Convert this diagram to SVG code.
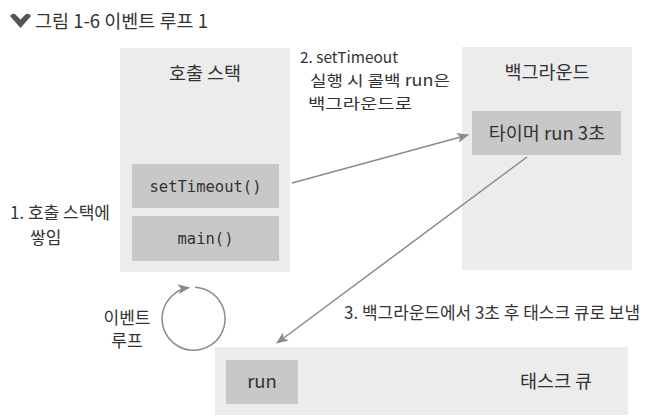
<svg xmlns="http://www.w3.org/2000/svg" width="658" height="419" viewBox="0 0 658 419">
<defs>
<style>
.panel{fill:#ececec}
.box{fill:#c8c8c8}
.t{font-family:"Noto Sans CJK KR","Noto Sans",sans-serif;fill:#333;font-size:17px}
.s{font-size:15px}
.h{font-size:18.5px}
.m{font-family:"DejaVu Sans Mono","Liberation Mono",monospace;fill:#333;font-size:15.5px}
.c{text-anchor:middle}
.conn{stroke:#8a8a8a;stroke-width:1.5;fill:none}
</style>
<marker id="ah" markerWidth="12" markerHeight="10" refX="11" refY="5" orient="auto" markerUnits="userSpaceOnUse">
<path d="M0,0 L12,5 L0,10 L3,5 Z" fill="#8a8a8a"/>
</marker>
</defs>
<rect width="658" height="419" fill="#fff"/>
<g id="title">
<path d="M10,16 Q13.5,11.5 17,16 L20.5,19.5 L24,16 Q27.5,11.5 31,16 L20.5,28 Z" fill="#555"/>
<text class="t h" x="35" y="28">그림 1-6 이벤트 루프 1</text>
</g>
<g id="callstack">
<rect class="panel" x="120" y="48" width="170" height="224"/>
<text class="t h c" x="205" y="80">호출 스택</text>
</g>
<g id="settimeout">
<rect class="box" x="132" y="164" width="147" height="44"/>
<text class="m c" x="205.5" y="192">setTimeout()</text>
</g>
<g id="main">
<rect class="box" x="132" y="216" width="147" height="45"/>
<text class="m c" x="205.5" y="244">main()</text>
</g>
<g id="background">
<rect class="panel" x="462" y="47" width="170" height="223"/>
<text class="t h c" x="547" y="79">백그라운드</text>
</g>
<g id="timer">
<rect class="box" x="472" y="111" width="149" height="44"/>
<text class="t h c" x="547" y="140">타이머 run 3초</text>
</g>
<g id="taskqueue">
<rect class="panel" x="215" y="347" width="413" height="68"/>
<text class="t h c" x="556" y="388" font-size="19">태스크 큐</text>
</g>
<g id="run">
<rect class="box" x="226" y="360" width="72" height="44"/>
<text class="t h c" x="262" y="388">run</text>
</g>
<g id="labels">
<text class="t" x="10" y="219" textLength="100" lengthAdjust="spacingAndGlyphs">1. 호출 스택에</text>
<text class="t" x="30" y="244">쌓임</text>
<text class="t s" x="300" y="63" textLength="98" lengthAdjust="spacingAndGlyphs">2. setTimeout</text>
<text class="t s" x="310" y="86" textLength="140" lengthAdjust="spacingAndGlyphs">실행 시 콜백 run은</text>
<text class="t s" x="308" y="109" textLength="104" lengthAdjust="spacingAndGlyphs">백그라운드로</text>
<text class="t" x="344" y="319" textLength="296" lengthAdjust="spacingAndGlyphs">3. 백그라운드에서 3초 후 태스크 큐로 보냄</text>
<text class="t c" x="127" y="324">이벤트</text>
<text class="t c" x="127" y="347">루프</text>
</g>
<g id="connectors">
<line class="conn" x1="292" y1="183" x2="468" y2="135" marker-end="url(#ah)"/>
<line class="conn" x1="527" y1="157" x2="277" y2="343" marker-end="url(#ah)"/>
<path class="conn" d="M195,287.3 A31.5,31.5 0 1 1 189,287.6" marker-end="url(#ah)"/>
</g>
</svg>
